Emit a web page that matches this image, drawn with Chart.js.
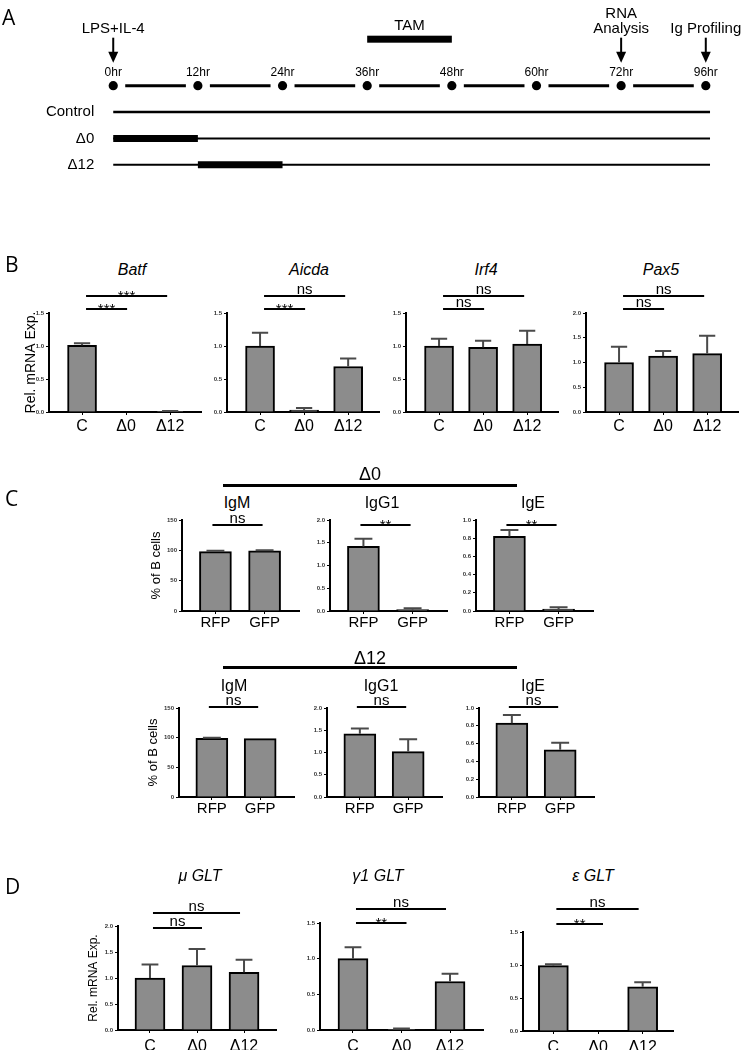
<!DOCTYPE html>
<html><head><meta charset="utf-8">
<script src="https://cdn.jsdelivr.net/npm/chart.js@4.4.1/dist/chart.umd.min.js"></script>
<style>
html,body{margin:0;padding:0;background:#fff;}
#fig{position:relative;width:741px;height:1050px;overflow:hidden;font-family:'Liberation Sans',Arial,sans-serif;color:#000;}
#fig canvas{position:absolute;}
.t{position:absolute;white-space:nowrap;line-height:1;transform:translate(-50%,-50%);}
.p{position:absolute;white-space:nowrap;line-height:1;transform:translate(0,-50%);font-family:'Open Sans','Liberation Sans',sans-serif;font-size:21px;}
.rule{position:absolute;background:#000;}
</style></head><body><div id="fig"></div>
<script>
// ===================== DATA =====================
// Panel A – timeline
const timepoints = ['0hr','12hr','24hr','36hr','48hr','60hr','72hr','96hr'];
const tamWindow = ['36hr','48hr'];
const eventTimes = ['0hr','72hr','96hr'];
const eventLabels = [['LPS+IL-4'], ['RNA','Analysis'], ['Ig Profiling']];
const conditions = ['Control','Δ0','Δ12'];
const deletionWindows = [null, ['0hr','12hr'], ['12hr','24hr']];

// Panel B – relative mRNA expression
const mrnaGroups = ['C','Δ0','Δ12'];
const panelBGenes = ['Batf','Aicda','Irf4','Pax5'];
const batfMean  = [1.01, 0.0, 0.005];  const batfErr  = [0.03, 0, 0.01];
const aicdaMean = [1.0, 0.03, 0.69];   const aicdaErr = [0.2, 0.03, 0.12];
const irf4Mean  = [1.0, 0.98, 1.03];   const irf4Err  = [0.11, 0.1, 0.2];
const pax5Mean  = [1.0, 1.13, 1.18];   const pax5Err  = [0.32, 0.1, 0.36];
const batfSig  = [['C','Δ12','***'], ['C','Δ0','***']];
const aicdaSig = [['C','Δ12','ns'],  ['C','Δ0','***']];
const irf4Sig  = [['C','Δ12','ns'],  ['C','Δ0','ns']];
const pax5Sig  = [['C','Δ12','ns'],  ['C','Δ0','ns']];
const panelBYMax = [1.5, 1.5, 1.5, 2.0];
const panelBYStep = [0.5, 0.5, 0.5, 0.5];

// Panel C – % of B cells
const facsGroups = ['RFP','GFP'];
const panelCHeaders = ['Δ0','Δ12'];
const panelCIsotypes = ['IgM','IgG1','IgE'];
const d0IgMMean  = [98, 99];     const d0IgMErr  = [1.5, 1];
const d0IgG1Mean = [1.42, 0.03]; const d0IgG1Err = [0.17, 0.03];
const d0IgEMean  = [0.82, 0.02]; const d0IgEErr  = [0.07, 0.02];
const d12IgMMean  = [99, 98.5];  const d12IgMErr  = [1, 0];
const d12IgG1Mean = [1.42, 1.02];const d12IgG1Err = [0.12, 0.28];
const d12IgEMean  = [0.83, 0.53];const d12IgEErr  = [0.09, 0.08];
const d0Sig  = [[['RFP','GFP','ns']], [['RFP','GFP','**']], [['RFP','GFP','**']]];
const d12Sig = [[['RFP','GFP','ns']], [['RFP','GFP','ns']], [['RFP','GFP','ns']]];
const panelCYMax = [150, 2.0, 1.0];
const panelCYStep = [50, 0.5, 0.2];
const panelCYDec = [0, 1, 1];

// Panel D – germline transcripts
const panelDTranscripts = ['μ GLT','γ1 GLT','ε GLT'];
const muMean  = [1.0, 1.24, 1.11]; const muErr  = [0.26, 0.32, 0.24];
const g1Mean  = [1.0, 0.01, 0.68]; const g1Err  = [0.16, 0.01, 0.11];
const epsMean = [0.99, 0.0, 0.67]; const epsErr = [0.02, 0, 0.07];
const muSig  = [['C','Δ12','ns'], ['C','Δ0','ns']];
const g1Sig  = [['C','Δ12','ns'], ['C','Δ0','**']];
const epsSig = [['C','Δ12','ns'], ['C','Δ0','**']];
const panelDYMax = [2.0, 1.5, 1.5];

const yTitleMRNA = 'Rel. mRNA Exp.';
const yTitleFACS = '% of B cells';

// ===================== LAYOUT / STYLE =====================
const fig = document.getElementById('fig');
const SANS = "'Liberation Sans', Arial, sans-serif";
const NARROW = "'Liberation Sans Narrow', 'Liberation Sans', sans-serif";
Chart.defaults.font.family = SANS;
const BAR_FILL = '#8c8c8c';

function text(s, x, y, css) {
  const d = document.createElement('div');
  d.className = 't'; d.textContent = s; d.style.left = x + 'px'; d.style.top = y + 'px';
  d.style.cssText += css || '';
  fig.appendChild(d);
}
function panelLetter(s, x, y) {
  const d = document.createElement('div');
  d.className = 'p'; d.textContent = s; d.style.left = x + 'px'; d.style.top = y + 'px';
  fig.appendChild(d);
}
function rule(x1, x2, y, h) {
  const d = document.createElement('div');
  d.className = 'rule';
  d.style.left = x1 + 'px'; d.style.width = (x2 - x1) + 'px'; d.style.top = (y - h / 2) + 'px'; d.style.height = h + 'px';
  fig.appendChild(d);
}

// ---------- Panel A: timeline drawn with Chart.js scales ----------
(function timeline() {
  const W = 741, H = 200;
  const c = document.createElement('canvas');
  c.width = W; c.height = H; c.style.left = '0px'; c.style.top = '0px';
  fig.appendChild(c);
  const n = timepoints.length - 1;
  const px0 = 110, pxN = 710;                 // layout of first / last timepoint
  const ux = (pxN - px0) / n, xmin = -px0 / ux, xmax = xmin + W / ux;
  const py0 = 85, py3 = 168;                   // layout of timeline row / last condition row
  const uy = (py3 - py0) / 3, ymin = -py0 / uy, ymax = ymin + H / uy;
  const idx = t => timepoints.indexOf(t);

  const datasets = [{
    data: timepoints.map((t, i) => ({ x: i, y: 0 })),
    pointRadius: 4.6, pointBackgroundColor: '#000', pointBorderWidth: 0, showLine: false
  }];
  conditions.forEach((cond, r) => {
    datasets.push({
      data: [{ x: 0, y: r + 1 }, { x: n + 0.05, y: r + 1 }],
      showLine: true, borderColor: '#000', borderWidth: r === 0 ? 2.5 : 2, pointRadius: 0, borderCapStyle: 'butt'
    });
    const w = deletionWindows[r];
    if (w) datasets.push({
      data: [{ x: idx(w[0]), y: r + 1 }, { x: idx(w[1]), y: r + 1 }],
      showLine: true, borderColor: '#000', borderWidth: 7, pointRadius: 0, borderCapStyle: 'butt'
    });
  });

  const deco = {
    id: 'timelineDeco',
    beforeDatasetsDraw(chart) {
      const { ctx, scales: { x, y } } = chart;
      const y0 = y.getPixelForValue(0);
      ctx.save(); ctx.strokeStyle = '#000'; ctx.lineWidth = 3;
      for (let i = 0; i < n; i++) {
        ctx.beginPath();
        ctx.moveTo(x.getPixelForValue(i) + 12, y0);
        ctx.lineTo(x.getPixelForValue(i + 1) - 12, y0);
        ctx.stroke();
      }
      ctx.restore();
    },
    afterDatasetsDraw(chart) {
      const { ctx, scales: { x, y } } = chart;
      const y0 = y.getPixelForValue(0);
      ctx.save();
      ctx.fillStyle = '#000'; ctx.strokeStyle = '#000';
      ctx.textAlign = 'center'; ctx.textBaseline = 'middle';
      ctx.font = '12px ' + SANS;
      timepoints.forEach((t, i) => ctx.fillText(t, x.getPixelForValue(i), y0 - 13));
      ctx.font = '15px ' + SANS; ctx.textAlign = 'right';
      conditions.forEach((cnd, r) => ctx.fillText(cnd, x.getPixelForValue(0) - 19, y.getPixelForValue(r + 1)));
      // TAM bar
      ctx.textAlign = 'center';
      const ta = x.getPixelForValue(idx(tamWindow[0])), tb = x.getPixelForValue(idx(tamWindow[1]));
      ctx.fillRect(ta, y0 - 50, tb - ta, 7);
      ctx.fillText('TAM', (ta + tb) / 2, y0 - 60);
      // events with arrows
      eventTimes.forEach((t, k) => {
        const px = x.getPixelForValue(idx(t));
        ctx.lineWidth = 2;
        ctx.beginPath(); ctx.moveTo(px, y0 - 48); ctx.lineTo(px, y0 - 32); ctx.stroke();
        ctx.beginPath(); ctx.moveTo(px - 5, y0 - 34); ctx.lineTo(px + 5, y0 - 34); ctx.lineTo(px, y0 - 23); ctx.closePath(); ctx.fill();
        const lines = eventLabels[k];
        lines.forEach((l, j) => ctx.fillText(l, px, y0 - 57 - (lines.length - 1 - j) * 15));
      });
      ctx.restore();
    }
  };

  new Chart(c, {
    type: 'scatter',
    data: { datasets },
    options: {
      responsive: false, animation: false, devicePixelRatio: 1,
      layout: { padding: 0 },
      plugins: { legend: { display: false }, tooltip: { enabled: false } },
      scales: {
        x: { type: 'linear', display: false, min: xmin, max: xmax },
        y: { type: 'linear', display: false, reverse: true, min: ymin, max: ymax }
      }
    },
    plugins: [deco]
  });
})();

// ---------- generic bar chart ----------
function errPlugin(err) {
  return {
    id: 'errbars',
    afterDatasetsDraw(chart) {
      const meta = chart.getDatasetMeta(0), ys = chart.scales.y, ctx = chart.ctx;
      const ds = chart.data.datasets[0].data;
      ctx.save(); ctx.strokeStyle = '#4a4a4a'; ctx.lineWidth = 2;
      meta.data.forEach((bar, i) => {
        const e = err[i]; if (!e) return;
        const v = ds[i].y;
        const yt = ys.getPixelForValue(v), yc = ys.getPixelForValue(v + e);
        const half = bar.width * 0.28;
        ctx.beginPath();
        ctx.moveTo(bar.x, yt); ctx.lineTo(bar.x, yc);
        ctx.moveTo(bar.x - half, yc); ctx.lineTo(bar.x + half, yc);
        ctx.stroke();
      });
      ctx.restore();
    }
  };
}
function sigPlugin(cats, sig, offs, dx) {
  return {
    id: 'sig',
    afterDraw(chart) {
      const x = chart.scales.x, top = chart.chartArea.top, ctx = chart.ctx;
      ctx.save(); ctx.strokeStyle = '#000'; ctx.fillStyle = '#000'; ctx.lineWidth = 2; ctx.textAlign = 'center';
      sig.forEach((s, k) => {
        const y = top + offs[k];
        const xs = x.getPixelForValue(cats.indexOf(s[0])) + dx[0];
        const xe = x.getPixelForValue(cats.indexOf(s[1])) + dx[k + 1];
        ctx.beginPath(); ctx.moveTo(xs, y); ctx.lineTo(xe, y); ctx.stroke();
        ctx.textBaseline = 'alphabetic';
        ctx.font = '15px ' + SANS;
        if (s[2] === 'ns') ctx.fillText(s[2], (xs + xe) / 2, y - 2);
        else ctx.fillText(s[2], (xs + xe) / 2, y + 5);
      });
      ctx.restore();
    }
  };
}

function barChart(o) {
  const WY = 44, HX = 36, PT = 48, PR = 4;
  const plotW = (o.xmax - o.xmin) * o.unit;
  const c = document.createElement('canvas');
  c.width = Math.round(WY + plotW + PR);
  c.height = Math.round(PT + (o.bottom - o.top) + HX);
  c.style.left = (o.axisX - WY) + 'px';
  c.style.top = (o.top - PT) + 'px';
  fig.appendChild(c);
  new Chart(c, {
    type: 'bar',
    data: {
      datasets: [{
        data: o.mean.map((v, i) => ({ x: i, y: v })),
        backgroundColor: BAR_FILL, borderColor: '#000', borderWidth: 2,
        barThickness: o.barW, borderSkipped: 'start'
      }]
    },
    options: {
      responsive: false, animation: false, devicePixelRatio: 1,
      layout: { padding: { top: PT, right: PR, left: 0, bottom: 0 } },
      plugins: { legend: { display: false }, tooltip: { enabled: false } },
      scales: {
        x: {
          type: 'linear', min: o.xmin, max: o.xmax, offset: false,
          afterBuildTicks: s => { s.ticks = o.cats.map((_, i) => ({ value: i })); },
          afterFit: s => { s.height = HX; },
          ticks: { callback: v => o.cats[v] ?? '', font: { size: o.xFont, family: SANS }, color: '#000', padding: o.xPad, maxRotation: 0, autoSkip: false },
          grid: { offset: false, drawOnChartArea: false, drawTicks: true, tickLength: 3, color: '#000', lineWidth: 1 },
          border: { display: true, color: '#000', width: 2 }
        },
        y: {
          min: 0, max: o.yMax,
          ticks: { stepSize: o.yStep, callback: v => Number(v).toFixed(o.yDec), font: { size: 6, weight: 'bold', family: SANS }, color: '#333', padding: 2 },
          afterFit: s => { s.width = WY; },
          title: { display: !!o.yTitle, text: o.yTitle || '', font: { size: o.yTitleSize || 12, family: NARROW }, color: '#000', padding: { top: o.yTitlePad || 12, bottom: 0 } },
          grid: { drawOnChartArea: false, drawTicks: true, tickLength: 3, color: '#000', lineWidth: 1 },
          border: { display: true, color: '#000', width: 2 }
        }
      }
    },
    plugins: [errPlugin(o.err), sigPlugin(o.cats, o.sig, o.sigOffs, o.sigDx)]
  });
}

// ---------- Panel letters ----------
panelLetter('A', 2, 17);
panelLetter('B', 5, 264);
panelLetter('C', 5, 498);
panelLetter('D', 5, 886);

// ---------- Panel B ----------
const bMeans = [batfMean, aicdaMean, irf4Mean, pax5Mean];
const bErrs = [batfErr, aicdaErr, irf4Err, pax5Err];
const bSigs = [batfSig, aicdaSig, irf4Sig, pax5Sig];
const bAxisX = [49, 227, 406, 586];
const bTitleX = [132, 309, 486, 661];
panelBGenes.forEach((g, i) => {
  text(g, bTitleX[i], 270, 'font-style:italic;font-size:16px;');
  barChart({
    cats: mrnaGroups, mean: bMeans[i], err: bErrs[i], sig: bSigs[i],
    yMax: panelBYMax[i], yStep: panelBYStep[i], yDec: 1, yTitle: i === 0 ? yTitleMRNA : null,
    yTitleSize: 14, yTitlePad: 18,
    axisX: bAxisX[i], top: 313, bottom: 412, unit: 44, xmin: -0.75, xmax: 2.7, barW: 29,
    xFont: 16, xPad: 2, sigOffs: [-17, -4], sigDx: [4, -3, 1]
  });
});

// ---------- Panel C ----------
const cRows = [
  { header: panelCHeaders[0], hy: 474, ry: 485, ty: 503, top: 520, bottom: 611, unit: 49, axisX: [182, 330, 476], sigOff: 5,
    means: [d0IgMMean, d0IgG1Mean, d0IgEMean], errs: [d0IgMErr, d0IgG1Err, d0IgEErr], sigs: d0Sig, titleX: [237, 382, 533] },
  { header: panelCHeaders[1], hy: 658, ry: 667, ty: 686, top: 708, bottom: 797, unit: 48.5, axisX: [179, 327, 479], sigOff: -1,
    means: [d12IgMMean, d12IgG1Mean, d12IgEMean], errs: [d12IgMErr, d12IgG1Err, d12IgEErr], sigs: d12Sig, titleX: [234, 381, 533] }
];
cRows.forEach(row => {
  text(row.header, 370, row.hy, 'font-size:18px;');
  rule(223, 517, row.ry, 3);
  panelCIsotypes.forEach((iso, i) => {
    text(iso, row.titleX[i], row.ty, 'font-size:16px;');
    barChart({
      cats: facsGroups, mean: row.means[i], err: row.errs[i], sig: row.sigs[i],
      yMax: panelCYMax[i], yStep: panelCYStep[i], yDec: panelCYDec[i], yTitle: i === 0 ? yTitleFACS : null,
      yTitleSize: 13, yTitlePad: 11,
      axisX: row.axisX[i], top: row.top, bottom: row.bottom, unit: row.unit, xmin: -0.68, xmax: 1.7, barW: 32,
      xFont: 15, xPad: 0, sigOffs: [row.sigOff], sigDx: [-3, -2]
    });
  });
});

// ---------- Panel D ----------
const dMeans = [muMean, g1Mean, epsMean];
const dErrs = [muErr, g1Err, epsErr];
const dSigs = [muSig, g1Sig, epsSig];
const dAxisX = [118, 320, 523];
const dTop = [926, 923, 932];
const dBottom = [1030, 1030, 1031];
const dUnit = [47, 48.5, 44.5];
const dSigOffs = [[-13, 2], [-14, 0], [-23, -8]];
const dTitleX = [200, 378, 593];
panelDTranscripts.forEach((g, i) => {
  text(g, dTitleX[i], 876, 'font-style:italic;font-size:16px;');
  barChart({
    cats: mrnaGroups, mean: dMeans[i], err: dErrs[i], sig: dSigs[i],
    yMax: panelDYMax[i], yStep: 0.5, yDec: 1, yTitle: i === 0 ? yTitleMRNA : null,
    yTitleSize: 12, yTitlePad: 12,
    axisX: dAxisX[i], top: dTop[i], bottom: dBottom[i], unit: dUnit[i], xmin: -0.68, xmax: 2.68, barW: 30,
    xFont: 16, xPad: 4, sigOffs: dSigOffs[i], sigDx: [3, -4, 5]
  });
});
</script></body></html>
